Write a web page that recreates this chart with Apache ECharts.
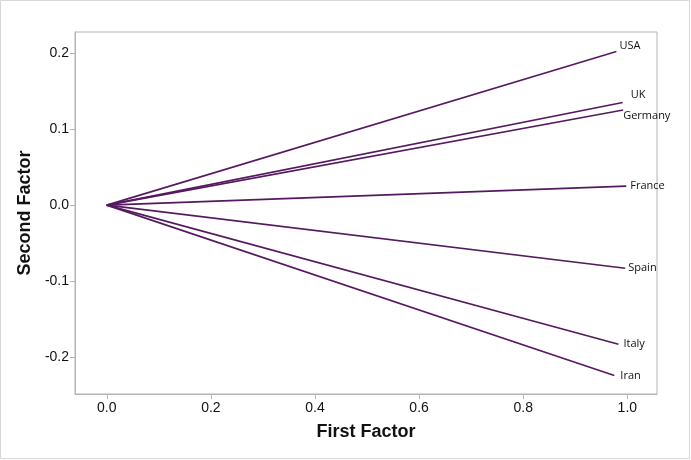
<!DOCTYPE html>
<html>
<head>
<meta charset="utf-8">
<script src="https://cdn.jsdelivr.net/npm/echarts@6/dist/echarts.min.js"></script>
<style>
html, body { margin: 0; padding: 0; background: #fff; }
#main { width: 691px; height: 460px; }
</style>
</head>
<body>
<div id="main"></div>
<script>
var countries = ['USA', 'UK', 'Germany', 'France', 'Spain', 'Italy', 'Iran'];
var firstFactor = [0.979, 0.991, 0.992, 0.998, 0.996, 0.983, 0.975];
var secondFactor = [0.202, 0.135, 0.125, 0.025, -0.083, -0.183, -0.224];
var xTicks = [0, 0.2, 0.4, 0.6, 0.8, 1.0];
var yTicks = [-0.2, -0.1, 0, 0.1, 0.2];

// label offsets per country, [dx, dy]
var labelOffsets = {
    USA: [0, -6], UK: [5, -8], Germany: [-3, 6], France: [1, 0],
    Spain: [0, 0], Italy: [2, 0], Iran: [3, 0]
};

var lineColor = '#55195f';
var axisGray = '#b4b4b4';

var dom = document.getElementById('main');
var myChart = echarts.init(dom);

var series = countries.map(function (name, i) {
    return {
        name: name,
        type: 'line',
        symbol: 'none',
        silent: true,
        lineStyle: { color: lineColor, width: 1.6 },
        endLabel: {
            show: true,
            distance: 3,
            offset: labelOffsets[name],
            formatter: name,
            color: '#111',
            fontFamily: 'Open Sans',
            fontSize: 11
        },
        data: [
            [0, 0],
            [firstFactor[i], secondFactor[i]]
        ]
    };
});

var option = {
    animation: false,
    backgroundColor: '#fff',
    graphic: [{
        type: 'rect',
        shape: { x: 0.5, y: 0.5, width: 689, height: 458 },
        style: { fill: 'none', stroke: '#d8d8d8', lineWidth: 1 }
    }],
    grid: {
        left: 75, right: 34, top: 32, bottom: 66,
        show: true, borderColor: axisGray, borderWidth: 1
    },
    xAxis: {
        type: 'value',
        min: -0.061,
        max: 1.057,
        name: 'First Factor',
        nameLocation: 'middle',
        nameGap: 29,
        nameTextStyle: { fontFamily: 'Liberation Sans', fontWeight: 'bold', fontSize: 18, color: '#111' },
        axisLine: { show: true, onZero: false, lineStyle: { color: axisGray } },
        axisTick: { show: true, customValues: xTicks, length: 5, lineStyle: { color: axisGray } },
        axisLabel: {
            customValues: xTicks,
            formatter: function (v) { return v.toFixed(1); },
            fontFamily: 'Liberation Sans', fontSize: 14, color: '#111', margin: 7
        },
        splitLine: { show: false }
    },
    yAxis: {
        type: 'value',
        min: -0.2483,
        max: 0.2276,
        name: 'Second Factor',
        nameLocation: 'middle',
        nameGap: 35,
        nameTextStyle: { fontFamily: 'Liberation Sans', fontWeight: 'bold', fontSize: 18, color: '#111' },
        axisLine: { show: true, onZero: false, lineStyle: { color: axisGray } },
        axisTick: { show: true, customValues: yTicks, length: 5, lineStyle: { color: axisGray } },
        axisLabel: {
            customValues: yTicks,
            formatter: function (v) { return v.toFixed(1); },
            fontFamily: 'Liberation Sans', fontSize: 14, color: '#111', margin: 6
        },
        splitLine: { show: false }
    },
    series: series
};

if (option && typeof option === 'object') {
    myChart.setOption(option, true);
}
</script>
</body>
</html>
